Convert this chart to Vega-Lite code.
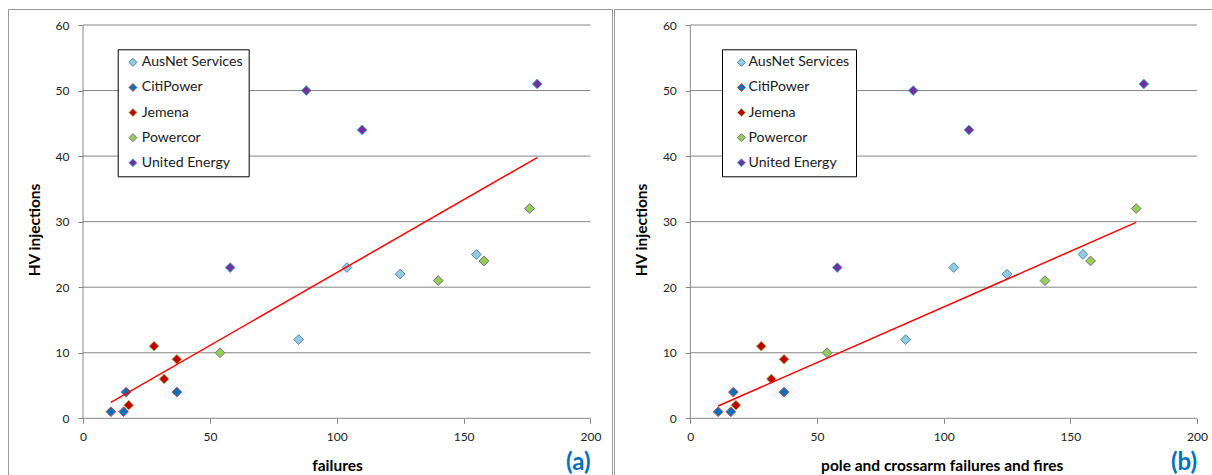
{
  "$schema": "https://vega.github.io/schema/vega-lite/v6.json",
  "padding": {"left": 7, "top": 8, "right": 0, "bottom": 0},
  "background": "white",
  "spacing": 0,
  "config": {
    "font": "Lato",
    "view": {"stroke": "#9a9a9a", "strokeWidth": 1},
    "axis": {"labelFont": "Lato", "titleFont": "Lato"},
    "legend": {"labelFont": "Lato"},
    "text": {"font": "Lato"},
    "title": {"font": "Lato"}
  },
  "datasets": {
    "obs": [
      {"utility": "AusNet Services", "failures": 85, "pole_crossarm_fires": 85, "hv": 12},
      {"utility": "AusNet Services", "failures": 104, "pole_crossarm_fires": 104, "hv": 23},
      {"utility": "AusNet Services", "failures": 125, "pole_crossarm_fires": 125, "hv": 22},
      {"utility": "AusNet Services", "failures": 155, "pole_crossarm_fires": 155, "hv": 25},
      {"utility": "CitiPower", "failures": 11, "pole_crossarm_fires": 11, "hv": 1},
      {"utility": "CitiPower", "failures": 16, "pole_crossarm_fires": 16, "hv": 1},
      {"utility": "CitiPower", "failures": 17, "pole_crossarm_fires": 17, "hv": 4},
      {"utility": "CitiPower", "failures": 37, "pole_crossarm_fires": 37, "hv": 4},
      {"utility": "Jemena", "failures": 18, "pole_crossarm_fires": 18, "hv": 2},
      {"utility": "Jemena", "failures": 28, "pole_crossarm_fires": 28, "hv": 11},
      {"utility": "Jemena", "failures": 32, "pole_crossarm_fires": 32, "hv": 6},
      {"utility": "Jemena", "failures": 37, "pole_crossarm_fires": 37, "hv": 9},
      {"utility": "Powercor", "failures": 54, "pole_crossarm_fires": 54, "hv": 10},
      {"utility": "Powercor", "failures": 140, "pole_crossarm_fires": 140, "hv": 21},
      {"utility": "Powercor", "failures": 158, "pole_crossarm_fires": 158, "hv": 24},
      {"utility": "Powercor", "failures": 176, "pole_crossarm_fires": 176, "hv": 32},
      {"utility": "United Energy", "failures": 58, "pole_crossarm_fires": 58, "hv": 23},
      {"utility": "United Energy", "failures": 88, "pole_crossarm_fires": 88, "hv": 50},
      {"utility": "United Energy", "failures": 110, "pole_crossarm_fires": 110, "hv": 44},
      {"utility": "United Energy", "failures": 179, "pole_crossarm_fires": 179, "hv": 51}
    ],
    "gridlines": [
      {"hv": 0, "failures": 0, "pole_crossarm_fires": 0, "x_end": 200},
      {"hv": 10, "failures": 0, "pole_crossarm_fires": 0, "x_end": 200},
      {"hv": 20, "failures": 0, "pole_crossarm_fires": 0, "x_end": 200},
      {"hv": 30, "failures": 0, "pole_crossarm_fires": 0, "x_end": 200},
      {"hv": 40, "failures": 0, "pole_crossarm_fires": 0, "x_end": 200},
      {"hv": 50, "failures": 0, "pole_crossarm_fires": 0, "x_end": 200},
      {"hv": 60, "failures": 0, "pole_crossarm_fires": 0, "x_end": 200}
    ],
    "yaxisline": [{"hv": 0, "failures": 0, "pole_crossarm_fires": 0, "y_end": 60}],
    "fitA": [{"failures": 11, "hv": 2.444}, {"failures": 179, "hv": 39.774}],
    "fitB": [{"pole_crossarm_fires": 11, "hv": 1.868}, {"pole_crossarm_fires": 176, "hv": 29.885}]
  },
  "resolve": {"scale": {"fill": "independent", "stroke": "independent"}, "legend": {"fill": "independent", "stroke": "independent"}},
  "hconcat": [
    {
      "width": 604,
      "height": 470,
      "title": {"text": "(a)", "orient": "bottom", "anchor": "end", "color": "#0070C0", "fontSize": 24, "fontWeight": "bold", "offset": -9, "baseline": "alphabetic", "dx": -21.5},
      "encoding": {
        "x": {"field": "failures", "type": "quantitative",
          "scale": {"domain": [-29.557, 208.473], "nice": false, "zero": false},
          "axis": {"values": [0, 50, 100, 150, 200], "offset": -60.7, "domain": false, "grid": false, "tickSize": 5, "tickColor": "#868686", "labelPadding": 8, "labelFontSize": 12, "labelColor": "#222222", "labelFlush": false, "labelOverlap": false, "title": "failures", "titleFontSize": 15.5, "titleFontWeight": "bold", "titleColor": "#000000", "titleX": 329, "titleY": 51.7, "titleBaseline": "alphabetic", "titleAlign": "center"}},
        "y": {"field": "hv", "type": "quantitative",
          "scale": {"domain": [-9.26, 62.441], "nice": false, "zero": false},
          "axis": {"values": [0, 10, 20, 30, 40, 50, 60], "offset": -75, "domain": false, "grid": false, "tickSize": 5, "tickColor": "#868686", "labelPadding": 9, "labelFontSize": 12, "labelColor": "#222222", "labelFlush": false, "labelOverlap": false, "title": "HV injections", "titleFontSize": 15.5, "titleFontWeight": "bold", "titleColor": "#000000", "titleX": -43.7, "titleY": 220.5, "titleAngle": 270, "titleAlign": "center", "titleBaseline": "alphabetic"}}
      },
      "layer": [
        {"data": {"name": "gridlines"}, "mark": {"type": "rule", "color": "#868686", "strokeWidth": 1},
          "encoding": {"x2": {"field": "x_end"}}},
        {"data": {"name": "yaxisline"}, "mark": {"type": "rule", "color": "#868686", "strokeWidth": 1},
          "encoding": {"y2": {"field": "y_end"}}},
        {"data": {"name": "obs"},
          "mark": {"type": "point", "shape": "diamond", "filled": true, "size": 95, "strokeWidth": 1, "opacity": 1},
          "encoding": {
            "fill": {"field": "utility", "type": "nominal",
              "scale": {"domain": ["AusNet Services", "CitiPower", "Jemena", "Powercor", "United Energy"], "range": ["#93CDDD", "#0070C0", "#C00000", "#92D050", "#7030A0"]},
              "legend": {"title": null, "orient": "none", "legendX": 109.7, "legendY": 40.3, "direction": "vertical", "strokeColor": "#000000", "fillColor": "#ffffff", "padding": 6, "rowPadding": 10.1, "symbolType": "diamond", "symbolSize": 64, "symbolStrokeWidth": 1, "symbolOffset": 2.2, "labelOffset": 1.8, "labelFontSize": 14.1, "labelColor": "#1a1a1a", "cornerRadius": 0}},
            "stroke": {"field": "utility", "type": "nominal",
              "scale": {"domain": ["AusNet Services", "CitiPower", "Jemena", "Powercor", "United Energy"], "range": ["#4F81BD", "#C0504D", "#9BBB59", "#8064A2", "#4BACC6"]},
              "legend": {"title": null, "orient": "none", "legendX": 109.7, "legendY": 40.3, "direction": "vertical", "strokeColor": "#000000", "fillColor": "#ffffff", "padding": 6, "rowPadding": 10.1, "symbolType": "diamond", "symbolSize": 64, "symbolStrokeWidth": 1, "symbolOffset": 2.2, "labelOffset": 1.8, "labelFontSize": 14.1, "labelColor": "#1a1a1a", "cornerRadius": 0}}
          }},
        {"data": {"name": "fitA"}, "mark": {"type": "line", "color": "#FF0000", "strokeWidth": 1.5}},
        {"data": {"values": [{}]},
          "mark": {"type": "text", "align": "center", "baseline": "middle", "fontSize": 15.4, "lineHeight": 20, "color": "#1a1a1a", "text": ["y = 0.2222x", "R² = 0.5684"]},
          "encoding": {"x": {"datum": 135.8}, "y": {"datum": 44.6}}}
      ]
    },
    {
      "width": 601,
      "height": 470,
      "title": {"text": "(b)", "orient": "bottom", "anchor": "end", "color": "#0070C0", "fontSize": 24, "fontWeight": "bold", "offset": -9, "baseline": "alphabetic", "dx": -18},
      "encoding": {
        "x": {"field": "pole_crossarm_fires", "type": "quantitative",
          "scale": {"domain": [-30.12, 207.11], "nice": false, "zero": false},
          "axis": {"values": [0, 50, 100, 150, 200], "offset": -60.7, "domain": false, "grid": false, "tickSize": 5, "tickColor": "#868686", "labelPadding": 8, "labelFontSize": 12, "labelColor": "#222222", "labelFlush": false, "labelOverlap": false, "title": "pole and crossarm failures and fires", "titleFontSize": 15.5, "titleFontWeight": "bold", "titleColor": "#000000", "titleX": 327.7, "titleY": 51.7, "titleBaseline": "alphabetic", "titleAlign": "center"}},
        "y": {"field": "hv", "type": "quantitative",
          "scale": {"domain": [-9.26, 62.441], "nice": false, "zero": false},
          "axis": {"values": [0, 10, 20, 30, 40, 50, 60], "offset": -76.3, "domain": false, "grid": false, "tickSize": 5, "tickColor": "#868686", "labelPadding": 9, "labelFontSize": 12, "labelColor": "#222222", "labelFlush": false, "labelOverlap": false, "title": "HV injections", "titleFontSize": 15.5, "titleFontWeight": "bold", "titleColor": "#000000", "titleX": -44.3, "titleY": 220.5, "titleAngle": 270, "titleAlign": "center", "titleBaseline": "alphabetic"}}
      },
      "layer": [
        {"data": {"name": "gridlines"}, "mark": {"type": "rule", "color": "#868686", "strokeWidth": 1},
          "encoding": {"x2": {"field": "x_end"}}},
        {"data": {"name": "yaxisline"}, "mark": {"type": "rule", "color": "#868686", "strokeWidth": 1},
          "encoding": {"y2": {"field": "y_end"}}},
        {"data": {"name": "obs"},
          "mark": {"type": "point", "shape": "diamond", "filled": true, "size": 95, "strokeWidth": 1, "opacity": 1},
          "encoding": {
            "fill": {"field": "utility", "type": "nominal",
              "scale": {"domain": ["AusNet Services", "CitiPower", "Jemena", "Powercor", "United Energy"], "range": ["#93CDDD", "#0070C0", "#C00000", "#92D050", "#7030A0"]},
              "legend": {"title": null, "orient": "none", "legendX": 108, "legendY": 40.3, "direction": "vertical", "strokeColor": "#000000", "fillColor": "#ffffff", "padding": 6, "rowPadding": 10.1, "symbolType": "diamond", "symbolSize": 64, "symbolStrokeWidth": 1, "symbolOffset": 6.4, "labelOffset": 0, "labelFontSize": 14.1, "labelColor": "#1a1a1a", "cornerRadius": 0}},
            "stroke": {"field": "utility", "type": "nominal",
              "scale": {"domain": ["AusNet Services", "CitiPower", "Jemena", "Powercor", "United Energy"], "range": ["#4F81BD", "#C0504D", "#9BBB59", "#8064A2", "#4BACC6"]},
              "legend": {"title": null, "orient": "none", "legendX": 108, "legendY": 40.3, "direction": "vertical", "strokeColor": "#000000", "fillColor": "#ffffff", "padding": 6, "rowPadding": 10.1, "symbolType": "diamond", "symbolSize": 64, "symbolStrokeWidth": 1, "symbolOffset": 6.4, "labelOffset": 0, "labelFontSize": 14.1, "labelColor": "#1a1a1a", "cornerRadius": 0}}
          }},
        {"data": {"name": "fitB"}, "mark": {"type": "line", "color": "#FF0000", "strokeWidth": 1.5}},
        {"data": {"values": [{}]},
          "mark": {"type": "text", "align": "center", "baseline": "middle", "fontSize": 15.4, "lineHeight": 20, "color": "#1a1a1a", "text": ["y = 0.1698x", "R² = 0.924"]},
          "encoding": {"x": {"datum": 133.0}, "y": {"datum": 34.7}}}
      ]
    }
  ]
}
